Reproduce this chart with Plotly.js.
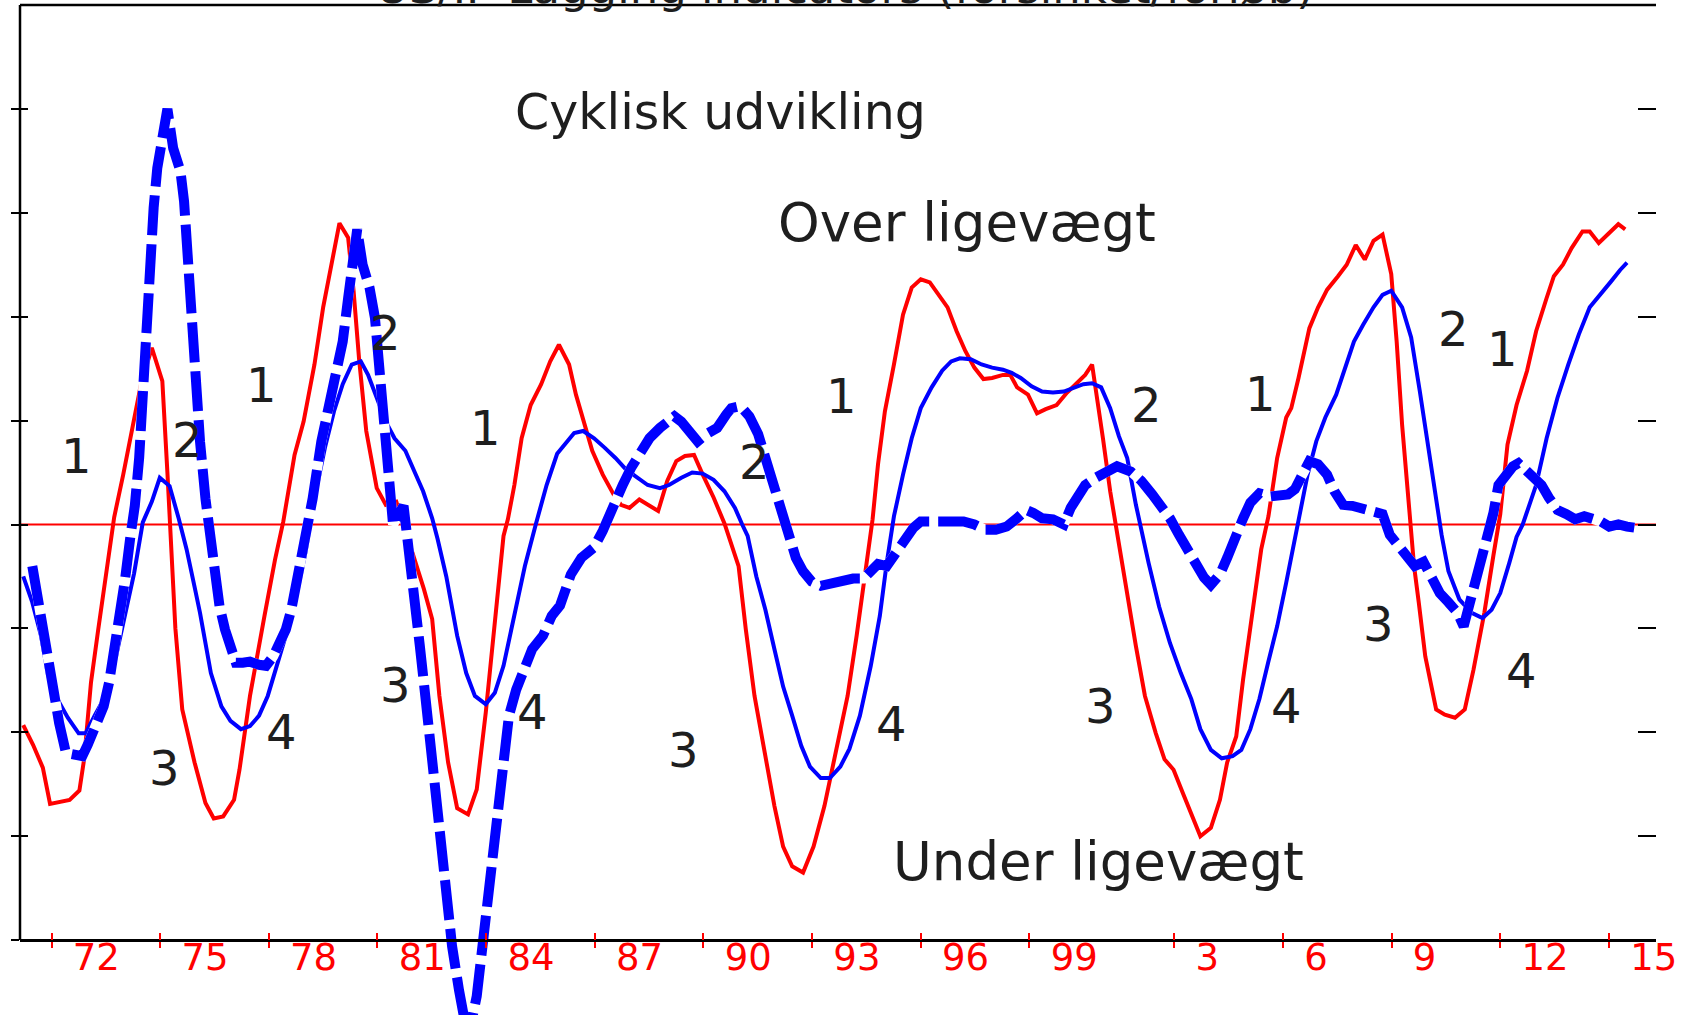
<!DOCTYPE html>
<html>
<head>
<meta charset="utf-8">
<script src="https://cdn.plot.ly/plotly-3.0.1.min.js"></script>
<style>html,body{margin:0;padding:0;background:#fff;}#chart{width:1694px;height:1015px;}</style>
</head>
<body>
<div id="chart"></div>
<script>
// ---------- DATA ----------
const redX = [1971.22,1971.49,1971.76,1971.96,1972.50,1972.77,1972.90,1973.09,1973.29,1973.49,1973.73,1973.98,1974.28,1974.47,1974.77,1975.06,1975.20,1975.32,1975.42,1975.61,1975.95,1976.25,1976.48,1976.74,1977.04,1977.19,1977.48,1977.88,1978.17,1978.40,1978.71,1978.96,1979.26,1979.50,1979.95,1980.19,1980.34,1980.49,1980.69,1980.98,1981.23,1981.52,1981.82,1982.02,1982.28,1982.51,1982.71,1982.95,1983.20,1983.50,1983.74,1983.99,1984.24,1984.48,1984.60,1984.78,1984.98,1985.23,1985.52,1985.77,1986.01,1986.29,1986.48,1986.73,1986.93,1987.22,1987.52,1987.72,1987.96,1988.23,1988.51,1988.75,1989.00,1989.25,1989.49,1989.74,1989.98,1990.28,1990.58,1990.97,1991.17,1991.41,1991.71,1991.96,1992.20,1992.45,1992.75,1993.04,1993.34,1993.63,1993.98,1994.23,1994.47,1994.67,1994.82,1995.01,1995.26,1995.51,1995.75,1996.00,1996.25,1996.49,1996.74,1996.99,1997.23,1997.48,1997.73,1997.97,1998.27,1998.47,1998.66,1998.96,1999.21,1999.45,1999.75,2000.04,2000.29,2000.54,2000.73,2000.83,2001.03,2001.23,2001.45,2001.70,2001.94,2002.19,2002.49,2002.73,2002.98,2003.23,2003.47,2003.72,2004.01,2004.26,2004.46,2004.71,2004.90,2005.15,2005.40,2005.60,2005.84,2006.09,2006.23,2006.43,2006.73,2006.97,2007.22,2007.52,2007.76,2008.01,2008.26,2008.50,2008.75,2008.99,2009.14,2009.29,2009.49,2009.62,2009.75,2009.93,2010.23,2010.47,2010.75,2011.02,2011.26,2011.56,2011.81,2012.00,2012.20,2012.45,2012.74,2012.99,2013.28,2013.48,2013.73,2013.97,2014.27,2014.47,2014.72,2014.96,2015.26,2015.45];
const redY = [-1.93,-2.12,-2.34,-2.69,-2.65,-2.56,-2.26,-1.52,-1.01,-0.50,0.07,0.48,0.99,1.35,1.70,1.38,0.50,-0.30,-1.00,-1.78,-2.29,-2.68,-2.83,-2.81,-2.65,-2.36,-1.65,-0.88,-0.34,0.03,0.67,0.99,1.54,2.09,2.90,2.76,2.25,1.60,0.90,0.35,0.19,0.22,-0.10,-0.32,-0.62,-0.91,-1.65,-2.29,-2.73,-2.79,-2.55,-1.81,-0.95,-0.11,0.05,0.38,0.83,1.15,1.35,1.57,1.73,1.54,1.25,0.96,0.71,0.48,0.29,0.19,0.16,0.24,0.18,0.13,0.42,0.61,0.66,0.67,0.48,0.26,0.01,-0.40,-1.01,-1.65,-2.23,-2.71,-3.10,-3.29,-3.35,-3.10,-2.71,-2.23,-1.65,-1.07,-0.47,0.05,0.58,1.09,1.54,2.02,2.28,2.36,2.33,2.21,2.09,1.86,1.67,1.51,1.40,1.41,1.44,1.44,1.32,1.25,1.07,1.11,1.15,1.27,1.35,1.44,1.54,1.32,0.83,0.32,-0.15,-0.69,-1.17,-1.65,-2.01,-2.26,-2.36,-2.58,-2.78,-3.00,-2.92,-2.65,-2.29,-2.04,-1.49,-0.85,-0.24,0.08,0.64,1.03,1.12,1.41,1.89,2.09,2.26,2.39,2.50,2.69,2.55,2.73,2.79,2.41,1.76,0.96,0.16,-0.40,-0.75,-1.27,-1.78,-1.83,-1.86,-1.78,-1.40,-0.85,-0.30,0.10,0.77,1.15,1.48,1.86,2.18,2.39,2.50,2.66,2.82,2.82,2.71,2.79,2.89,2.84];

const thinX = [1971.22,1971.47,1971.71,1971.91,1972.16,1972.45,1972.75,1972.94,1973.19,1973.49,1973.78,1974.03,1974.28,1974.52,1974.77,1974.99,1975.26,1975.51,1975.73,1975.95,1976.10,1976.40,1976.69,1976.94,1977.23,1977.48,1977.73,1977.97,1978.22,1978.52,1978.76,1979.01,1979.26,1979.55,1979.80,1980.04,1980.29,1980.54,1980.74,1980.98,1981.23,1981.47,1981.77,1982.02,1982.26,1982.51,1982.66,1982.90,1983.20,1983.45,1983.69,1983.99,1984.24,1984.48,1984.78,1985.07,1985.37,1985.67,1985.96,1986.24,1986.43,1986.68,1986.98,1987.27,1987.57,1987.86,1988.16,1988.46,1988.80,1989.05,1989.39,1989.69,1989.98,1990.28,1990.58,1990.87,1991.07,1991.22,1991.46,1991.71,1991.96,1992.20,1992.45,1992.70,1992.94,1993.24,1993.49,1993.78,1994.03,1994.32,1994.62,1994.87,1995.06,1995.26,1995.51,1995.75,1996.00,1996.30,1996.59,1996.84,1997.08,1997.38,1997.68,1997.97,1998.27,1998.51,1998.76,1999.06,1999.35,1999.65,1999.95,2000.24,2000.49,2000.73,2000.98,2001.23,2001.47,2001.70,2001.94,2002.29,2002.58,2002.88,2003.18,2003.47,2003.72,2004.01,2004.31,2004.61,2004.85,2005.10,2005.35,2005.59,2005.84,2006.09,2006.33,2006.53,2006.68,2006.92,2007.17,2007.47,2007.71,2007.96,2008.21,2008.50,2008.75,2008.99,2009.29,2009.54,2009.78,2009.98,2010.18,2010.38,2010.57,2010.87,2011.21,2011.51,2011.76,2012.00,2012.25,2012.45,2012.62,2012.99,2013.28,2013.58,2013.88,2014.17,2014.47,2014.77,2015.06,2015.31,2015.50];
const thinY = [-0.50,-0.75,-1.07,-1.46,-1.68,-1.86,-2.01,-2.01,-1.84,-1.65,-1.27,-0.85,-0.47,0.02,0.22,0.45,0.37,0.06,-0.24,-0.60,-0.85,-1.43,-1.75,-1.89,-1.97,-1.94,-1.84,-1.65,-1.36,-1.01,-0.69,-0.27,0.25,0.74,1.09,1.35,1.54,1.57,1.44,1.22,0.99,0.83,0.71,0.51,0.32,0.06,-0.14,-0.50,-1.07,-1.43,-1.65,-1.73,-1.62,-1.36,-0.88,-0.40,0.00,0.38,0.68,0.80,0.88,0.90,0.83,0.74,0.64,0.53,0.45,0.38,0.35,0.38,0.45,0.50,0.49,0.43,0.32,0.16,0.00,-0.11,-0.50,-0.82,-1.20,-1.56,-1.84,-2.13,-2.33,-2.44,-2.44,-2.33,-2.16,-1.84,-1.36,-0.88,-0.37,0.08,0.48,0.83,1.12,1.32,1.48,1.57,1.60,1.59,1.54,1.51,1.49,1.46,1.41,1.33,1.28,1.27,1.28,1.32,1.35,1.36,1.32,1.12,0.85,0.64,0.19,-0.37,-0.79,-1.14,-1.43,-1.68,-1.97,-2.17,-2.25,-2.23,-2.17,-1.97,-1.68,-1.33,-0.98,-0.56,-0.14,0.18,0.48,0.80,1.03,1.25,1.51,1.76,1.92,2.09,2.21,2.25,2.09,1.80,1.28,0.80,0.32,-0.10,-0.45,-0.72,-0.85,-0.90,-0.82,-0.66,-0.37,-0.12,0.00,0.38,0.83,1.22,1.54,1.83,2.09,2.21,2.34,2.45,2.52];

const dashX = [1971.47,1971.61,1971.76,1971.91,1972.06,1972.21,1972.40,1972.65,1972.85,1973.00,1973.19,1973.44,1973.59,1973.73,1973.88,1974.03,1974.18,1974.30,1974.42,1974.52,1974.62,1974.72,1974.82,1974.92,1975.02,1975.20,1975.36,1975.56,1975.66,1975.76,1975.86,1975.95,1976.10,1976.25,1976.35,1976.50,1976.64,1976.79,1976.94,1977.09,1977.28,1977.48,1977.73,1977.92,1978.12,1978.32,1978.47,1978.62,1978.76,1978.91,1979.06,1979.21,1979.45,1979.65,1979.85,1980.04,1980.19,1980.34,1980.44,1980.59,1980.78,1980.93,1981.03,1981.13,1981.23,1981.33,1981.43,1981.72,1981.87,1982.02,1982.17,1982.32,1982.46,1982.61,1982.76,1982.91,1983.06,1983.25,1983.50,1983.74,1983.89,1984.04,1984.19,1984.34,1984.48,1984.63,1984.83,1985.02,1985.27,1985.57,1985.81,1986.04,1986.34,1986.63,1986.98,1987.22,1987.47,1987.77,1988.01,1988.26,1988.51,1988.80,1989.00,1989.20,1989.39,1989.59,1989.84,1990.08,1990.38,1990.63,1990.77,1991.02,1991.27,1991.51,1991.71,1991.91,1992.11,1992.35,1992.55,1992.75,1992.99,1993.24,1993.53,1993.83,1994.13,1994.42,1994.62,1994.82,1995.06,1995.31,1995.56,1995.80,1996.00,1996.30,1996.59,1996.89,1997.18,1997.48,1997.78,1998.07,1998.37,1998.66,1998.91,1999.11,1999.35,1999.65,1999.95,2000.14,2000.34,2000.54,2000.83,2001.13,2001.42,2001.80,2002.09,2002.39,2002.63,2002.88,2003.13,2003.37,2003.62,2003.82,2004.01,2004.26,2004.46,2004.66,2004.90,2005.10,2005.35,2005.64,2005.89,2006.14,2006.33,2006.53,2006.73,2006.97,2007.22,2007.42,2007.66,2007.91,2008.21,2008.50,2008.75,2008.95,2009.14,2009.39,2009.64,2009.88,2010.08,2010.33,2010.57,2010.82,2010.99,2011.21,2011.36,2011.51,2011.66,2011.81,2011.95,2012.15,2012.35,2012.50,2012.69,2012.89,2013.14,2013.34,2013.58,2013.83,2014.07,2014.32,2014.52,2014.77,2015.01,2015.26,2015.50,2015.70];
const dashY = [-0.40,-0.69,-1.01,-1.33,-1.65,-1.91,-2.20,-2.23,-2.23,-2.12,-1.97,-1.75,-1.52,-1.24,-0.85,-0.53,-0.11,0.18,0.64,1.35,1.92,2.57,3.05,3.43,3.70,4.00,3.62,3.40,3.11,2.57,2.09,1.44,0.80,0.25,-0.05,-0.47,-0.79,-1.01,-1.20,-1.33,-1.33,-1.32,-1.35,-1.36,-1.27,-1.14,-1.01,-0.82,-0.59,-0.34,-0.05,0.25,0.80,1.12,1.38,1.76,2.18,2.57,2.84,2.50,2.28,1.99,1.60,1.28,0.80,0.48,0.00,0.18,-0.21,-0.69,-1.17,-1.65,-2.13,-2.61,-3.10,-3.58,-4.06,-4.48,-4.95,-4.54,-4.06,-3.58,-3.10,-2.61,-2.17,-1.84,-1.59,-1.40,-1.20,-1.07,-0.88,-0.78,-0.48,-0.32,-0.22,-0.06,0.16,0.38,0.55,0.71,0.83,0.93,0.99,1.04,0.99,0.90,0.80,0.87,0.93,1.06,1.12,1.14,1.04,0.87,0.64,0.42,0.19,-0.13,-0.32,-0.45,-0.55,-0.59,-0.56,-0.53,-0.52,-0.52,-0.45,-0.38,-0.40,-0.26,-0.13,-0.03,0.03,0.03,0.05,0.05,0.03,0.00,-0.05,-0.05,-0.02,0.06,0.14,0.11,0.06,0.05,0.00,0.16,0.29,0.38,0.45,0.51,0.56,0.51,0.42,0.29,0.19,0.06,-0.10,-0.26,-0.42,-0.51,-0.58,-0.48,-0.32,-0.13,0.06,0.21,0.30,0.27,0.27,0.29,0.34,0.48,0.61,0.58,0.48,0.32,0.19,0.18,0.16,0.14,0.10,-0.10,-0.19,-0.29,-0.40,-0.36,-0.49,-0.66,-0.75,-0.85,-0.98,-0.69,-0.53,-0.30,-0.08,0.11,0.38,0.48,0.56,0.59,0.53,0.47,0.38,0.26,0.14,0.10,0.05,0.08,0.06,0.03,-0.02,0.00,-0.02,-0.03];

const tickYears = [1972,1975,1978,1981,1984,1987,1990,1993,1996,1999,2003,2006,2009,2012,2015];
const tickLabels = ['72','75','78','81','84','87','90','93','96','99','3','6','9','12','15'];
const levelTicks = [-4,-3,-2,-1,0,1,2,3,4];

const phaseText = ['1','2','3','4','1','2','3','4','1','2','3','4','1','2','3','4','1','2','1','3','4'];
const phaseX = [1972.68,1975.75,1975.13,1978.34,1977.79,1981.21,1981.51,1985.27,1983.97,1991.40,1989.44,1995.18,1993.82,2002.24,2000.95,2006.11,2005.37,2010.72,2012.05,2008.65,2012.60];
const phaseY = [0.66,0.81,-2.34,-2.00,1.34,1.84,-1.54,-1.80,0.93,0.60,-2.17,-1.92,1.24,1.15,-1.75,-1.75,1.26,1.88,1.69,-0.96,-1.41];

const noteText = ['Cyklisk udvikling','Over ligevægt','Under ligevægt'];
const noteX = [1990.48,1997.28,2000.92];
const noteY = [3.97,2.91,-3.24];
const noteSize = [49,53,53];

const titleText = 'US/IP Lagging indicators (forsinket/forløb)';

// ---------- LAYOUT ----------
const W = 1694, H = 1015;
const mL = 20, mR = 38, mT = 5, mB = 0;
const yTop = 5, yAxisLevel = -4;
const pxPerUnit = 103.9;
const yBottom = yTop - (H - mT - mB) / pxPerUnit;
const xMin = 1971.13, xMax = 2016.30;
const axisPos = (yAxisLevel - yBottom) / (yTop - yBottom);
const FONT = 'DejaVu Sans, Verdana, sans-serif';
const RED = '#ff0000', BLUE = '#0000ff', INK = '#1e1e1e';

const traces = [
  {x: redX, y: redY, type: 'scatter', mode: 'lines', line: {color: RED, width: 4}, hoverinfo: 'skip'},
  {x: thinX, y: thinY, type: 'scatter', mode: 'lines', line: {color: BLUE, width: 4}, hoverinfo: 'skip'},
  {x: dashX, y: dashY, type: 'scatter', mode: 'lines', line: {color: '#ffffff', width: 10}, hoverinfo: 'skip'},
  {x: dashX, y: dashY, type: 'scatter', mode: 'lines', line: {color: BLUE, width: 10, dash: '40px,9px'}, hoverinfo: 'skip'},
  {x: [], y: [], type: 'scatter', mode: 'lines', xaxis: 'x2', yaxis: 'y2', hoverinfo: 'skip'},
  {x: [], y: [], type: 'scatter', mode: 'lines', xaxis: 'x', yaxis: 'y3', hoverinfo: 'skip'}
];

const annotations = [];
phaseText.forEach((t, i) => annotations.push({
  x: phaseX[i], y: phaseY[i], xref: 'x', yref: 'y', text: t, showarrow: false,
  font: {family: FONT, size: 48, color: INK}, xanchor: 'center', yanchor: 'middle'
}));
noteText.forEach((t, i) => annotations.push({
  x: noteX[i], y: noteY[i], xref: 'x', yref: 'y', text: t, showarrow: false,
  font: {family: FONT, size: noteSize[i], color: INK}, xanchor: 'center', yanchor: 'middle'
}));
annotations.push({
  x: 0.504, y: 1, xref: 'paper', yref: 'paper', yanchor: 'bottom', xanchor: 'center', yshift: -11,
  text: titleText, showarrow: false, font: {family: FONT, size: 45, color: INK}
});

const layout = {
  width: W, height: H,
  margin: {l: mL, r: mR, t: mT, b: mB, pad: 0},
  paper_bgcolor: '#ffffff', plot_bgcolor: '#ffffff',
  showlegend: false, hovermode: false,
  font: {family: FONT},
  xaxis: {
    range: [xMin, xMax], anchor: 'free', position: axisPos,
    showgrid: false, zeroline: false,
    showline: true, linecolor: '#000', linewidth: 2.5,
    tickmode: 'array', tickvals: tickYears, ticktext: tickLabels,
    ticks: 'outside', ticklen: 6, tickwidth: 2, tickcolor: RED,
    ticklabelposition: 'outside right', ticklabelshift: 19, ticklabelstandoff: -16,
    tickfont: {family: FONT, size: 37, color: RED}
  },
  xaxis2: {
    range: [xMin, xMax], overlaying: 'x', anchor: 'free', position: axisPos,
    showgrid: false, zeroline: false, showline: false,
    tickmode: 'array', tickvals: tickYears, showticklabels: false,
    ticks: 'inside', ticklen: 7, tickwidth: 2, tickcolor: RED
  },
  yaxis: {
    range: [yBottom, yTop], showgrid: false, zeroline: false, showline: false,
    tickmode: 'array', tickvals: levelTicks, showticklabels: false,
    ticks: 'outside', ticklen: 8, tickwidth: 2, tickcolor: '#000'
  },
  yaxis2: {
    range: [yBottom, yTop], overlaying: 'y', side: 'left', anchor: 'x',
    showgrid: false, zeroline: false, showline: false,
    tickmode: 'array', tickvals: levelTicks.slice(1), showticklabels: false,
    ticks: 'inside', ticklen: 8, tickwidth: 2, tickcolor: '#000'
  },
  yaxis3: {
    range: [yBottom, yTop], overlaying: 'y', side: 'right', anchor: 'x',
    showgrid: false, zeroline: false, showline: false,
    tickmode: 'array', tickvals: levelTicks.slice(1), showticklabels: false,
    ticks: 'inside', ticklen: 18, tickwidth: 2, tickcolor: '#000'
  },
  shapes: [
    {type: 'line', xref: 'paper', yref: 'y', x0: 0, x1: 1, y0: 0, y1: 0, layer: 'below', line: {color: RED, width: 1.8}},
    {type: 'line', xref: 'paper', yref: 'paper', x0: 0, x1: 1, y0: 1, y1: 1, line: {color: '#000', width: 2.5}},
    {type: 'line', xref: 'paper', yref: 'paper', x0: 0, x1: 0, y0: axisPos, y1: 1, line: {color: '#000', width: 2.5}}
  ],
  annotations: annotations
};

Plotly.newPlot('chart', traces, layout, {staticPlot: true, displayModeBar: false});
</script>
</body>
</html>
